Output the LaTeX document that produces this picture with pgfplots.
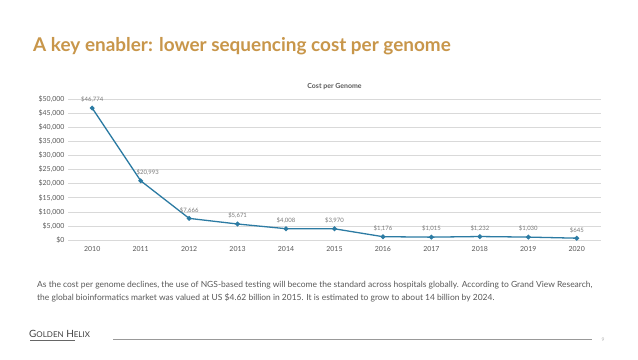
\documentclass[border=0pt]{standalone}
\usepackage{pgfplots}
\pgfplotsset{compat=1.18}
\usepackage{fontspec}
\setmainfont{Lato}
\definecolor{gold}{HTML}{C8964A}
\definecolor{lineblue}{HTML}{2C7BA3}
\definecolor{txt}{HTML}{595959}
\definecolor{gridc}{HTML}{D9D9D9}
\pgfplotstableread{
year cost dx
2010 46774 0
2011 20993 7
2012 7666 0
2013 5671 0
2014 4008 0
2015 3970 0
2016 1176 0
2017 1015 0
2018 1232 0
2019 1030 0
2020 645 0
}\costdata
\begin{document}
\begin{tikzpicture}[x=1bp,y=1bp]
\path[use as bounding box,fill=white] (0,0) rectangle (638,359);
\node[anchor=base west,inner sep=0,text=gold,font=\fontsize{19}{21}\selectfont\bfseries] at (33,308) {A key enabler: lower sequencing cost per genome};
\begin{axis}[
  at={(68bp,119bp)}, anchor=south west, scale only axis,
  width=533bp, height=141bp,
  xmin=2009.5, xmax=2020.5, ymin=0, ymax=50000,
  xtick={2010,...,2020}, ytick={0,5000,...,50000},
  scaled y ticks=false,
  xticklabel style={/pgf/number format/1000 sep={}, yshift=-3bp},
  yticklabel={\$\pgfmathprintnumber[assume math mode=true,1000 sep={,}]{\tick}},
  /pgf/number format/assume math mode=true,
  ticklabel style={font=\fontsize{7}{8}\selectfont, text=txt},
  axis line style={draw=none},
  major tick length=0pt,
  ymajorgrids, grid style={gridc, line width=0.5pt},
  axis x line*=bottom,
  x axis line style={draw=gridc},
  title={\textbf{Cost per Genome}},
  title style={font=\fontsize{7}{8}\selectfont, text=txt, yshift=0bp},
  clip=false,
  visualization depends on={\thisrow{dx} \as \dx},
  nodes near coords={\$\pgfmathprintnumber[assume math mode=true,1000 sep={,}]{\pgfplotspointmeta}},
  nodes near coords style={font=\fontsize{6}{7}\selectfont, text=txt!80, anchor=south, yshift=1.5bp, xshift=\dx bp},
]
\addplot[color=lineblue, line width=1.3pt, mark=*, mark size=1.7pt, mark options={fill=lineblue}] table[x=year,y=cost] {\costdata};
\end{axis}
\node[anchor=base west,inner sep=0,text=txt,font=\fontsize{8.5}{9}\selectfont] at (37,72) {As the cost per genome declines, the use of NGS-based testing will become the standard across hospitals globally. According to Grand View Research,};
\node[anchor=base west,inner sep=0,text=txt,font=\fontsize{8.5}{9}\selectfont] at (37,59) {the global bioinformatics market was valued at US \$4.62 billion in 2015. It is estimated to grow to about 14 billion by 2024.};
\node[anchor=base west,inner sep=0,text=black!75,font=\fontsize{10}{11}\selectfont] at (29,22) {G{\fontsize{8}{9}\selectfont OLDEN} H{\fontsize{8}{9}\selectfont ELIX}};
\draw[black!60,line width=0.3pt] (30,18.5) -- (75,18.5);
\draw[black!40,line width=0.5pt] (113,20) -- (592,20);
\node[anchor=base,inner sep=0,text=black!30,font=\fontsize{5}{6}\selectfont] at (603,18) {9};
\end{tikzpicture}
\end{document}
